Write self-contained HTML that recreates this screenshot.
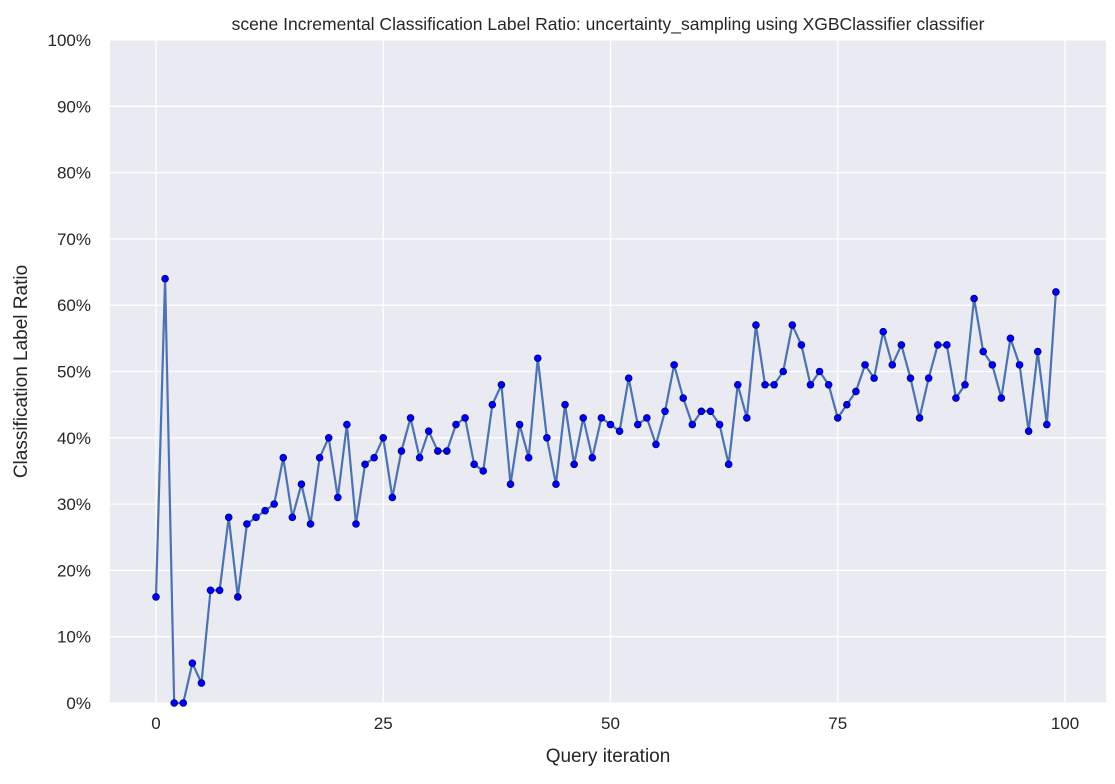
<!DOCTYPE html>
<html><head><meta charset="utf-8"><style>
body{margin:0;background:#fff;font-family:"Liberation Sans",sans-serif;}
</style></head><body>
<svg id="chart" width="1115" height="779" xmlns="http://www.w3.org/2000/svg"></svg>
<script>
const iterations = Array.from({length:100},(_,i)=>i);
const ratios = [16,64,0,0,6,3,17,17,28,16,27,28,29,30,37,28,33,27,37,40,31,42,27,36,37,40,31,38,43,37,41,38,38,42,43,36,35,45,48,33,42,37,52,40,33,45,36,43,37,43,42,41,49,42,43,39,44,51,46,42,44,44,42,36,48,43,57,48,48,50,57,54,48,50,48,43,45,47,51,49,56,51,54,49,43,49,54,54,46,48,61,53,51,46,55,51,41,53,42,62];
const xTicks = [0,25,50,75,100];
const yTicks = [0,10,20,30,40,50,60,70,80,90,100];

const NS="http://www.w3.org/2000/svg";
const svg=document.getElementById('chart');
const L=110,R=1106,T=40,B=703;
const xs=v=>156+v*(1065-156)/100;
const ys=v=>B-v*(B-T)/100;
function mk(tag,attrs,parent){const e=document.createElementNS(NS,tag);for(const k in attrs)e.setAttribute(k,attrs[k]);(parent||svg).appendChild(e);return e;}
const bg=mk('rect',{x:L,y:T,width:R-L,height:B-T,fill:'#eaeaf2'});


yTicks.forEach(v=>{
  const g=mk('line',{x1:L,x2:R,y1:ys(v),y2:ys(v),stroke:'#fff','stroke-width':1.3});
  
  
  const t=mk('text',{x:L-19,y:ys(v)+6,'text-anchor':'end','font-size':17,fill:'#262626'});
  t.textContent=v+'%';
  
  
});
xTicks.forEach(v=>{
  const g=mk('line',{x1:xs(v),x2:xs(v),y1:T,y2:B,stroke:'#fff','stroke-width':1.3});
  
  
  const t=mk('text',{x:xs(v),y:B+26,'text-anchor':'middle','font-size':17,fill:'#262626'});
  t.textContent=v;
  
  
});
const pts=iterations.map((x,i)=>xs(x)+','+ys(ratios[i])).join(' ');
const line=mk('polyline',{points:pts,fill:'none',stroke:'#4c72b0','stroke-width':2.2});


iterations.forEach((x,i)=>{
  const c=mk('circle',{cx:xs(x),cy:ys(ratios[i]),r:3.3,fill:'#0000ff',stroke:'#00008b','stroke-width':1});
  
  
});
const title=mk('text',{x:(L+R)/2,y:30,'text-anchor':'middle','font-size':17.5,fill:'#262626'});
title.textContent='scene Incremental Classification Label Ratio: uncertainty_sampling using XGBClassifier classifier';


const xl=mk('text',{x:(L+R)/2,y:762,'text-anchor':'middle','font-size':19,fill:'#262626'});
xl.textContent='Query iteration';


const yl=mk('text',{x:0,y:0,'text-anchor':'middle','font-size':19,fill:'#262626',transform:'translate(27,'+((T+B)/2)+') rotate(-90)'});
yl.textContent='Classification Label Ratio';


</script>
</body></html>
